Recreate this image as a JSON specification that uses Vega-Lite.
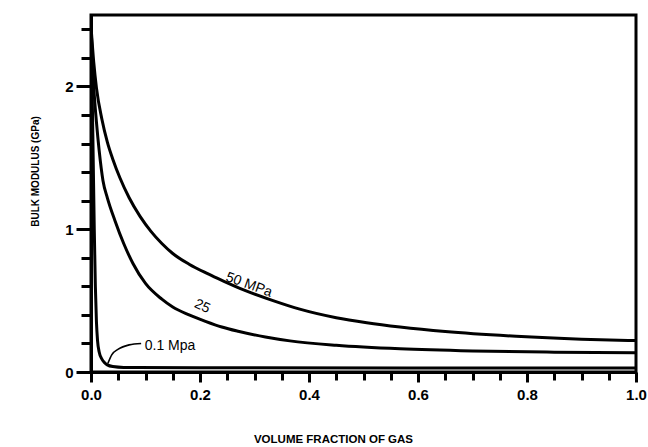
{
  "$schema": "https://vega.github.io/schema/vega-lite/v6.json",
  "width": 545,
  "height": 357,
  "autosize": "none",
  "padding": {"left": 91, "top": 15, "right": 12, "bottom": 75},
  "background": "white",
  "config": {
    "view": {"stroke": "black", "strokeWidth": 3},
    "font": "Liberation Sans"
  },
  "datasets": {
    "curves": [
      {"series": "50 MPa", "x": 0, "y": 2.42},
      {"series": "50 MPa", "x": 0.005, "y": 2.17},
      {"series": "50 MPa", "x": 0.01, "y": 1.99},
      {"series": "50 MPa", "x": 0.02, "y": 1.77},
      {"series": "50 MPa", "x": 0.03, "y": 1.61},
      {"series": "50 MPa", "x": 0.04, "y": 1.49},
      {"series": "50 MPa", "x": 0.053, "y": 1.36},
      {"series": "50 MPa", "x": 0.07, "y": 1.22},
      {"series": "50 MPa", "x": 0.09, "y": 1.09},
      {"series": "50 MPa", "x": 0.11, "y": 0.985},
      {"series": "50 MPa", "x": 0.13, "y": 0.9},
      {"series": "50 MPa", "x": 0.15, "y": 0.83},
      {"series": "50 MPa", "x": 0.18, "y": 0.755},
      {"series": "50 MPa", "x": 0.213, "y": 0.69},
      {"series": "50 MPa", "x": 0.244, "y": 0.635},
      {"series": "50 MPa", "x": 0.28, "y": 0.575},
      {"series": "50 MPa", "x": 0.334, "y": 0.5},
      {"series": "50 MPa", "x": 0.383, "y": 0.44},
      {"series": "50 MPa", "x": 0.45, "y": 0.38},
      {"series": "50 MPa", "x": 0.506, "y": 0.345},
      {"series": "50 MPa", "x": 0.567, "y": 0.315},
      {"series": "50 MPa", "x": 0.65, "y": 0.283},
      {"series": "50 MPa", "x": 0.78, "y": 0.25},
      {"series": "50 MPa", "x": 0.9, "y": 0.23},
      {"series": "50 MPa", "x": 1.0, "y": 0.22},
      {"series": "25 MPa", "x": 0, "y": 2.42},
      {"series": "25 MPa", "x": 0.005, "y": 2.0},
      {"series": "25 MPa", "x": 0.01, "y": 1.75},
      {"series": "25 MPa", "x": 0.015, "y": 1.55},
      {"series": "25 MPa", "x": 0.022, "y": 1.34},
      {"series": "25 MPa", "x": 0.03, "y": 1.22},
      {"series": "25 MPa", "x": 0.044, "y": 1.06},
      {"series": "25 MPa", "x": 0.06, "y": 0.9},
      {"series": "25 MPa", "x": 0.077, "y": 0.76},
      {"series": "25 MPa", "x": 0.1, "y": 0.62},
      {"series": "25 MPa", "x": 0.13, "y": 0.51},
      {"series": "25 MPa", "x": 0.15, "y": 0.455},
      {"series": "25 MPa", "x": 0.18, "y": 0.4},
      {"series": "25 MPa", "x": 0.21, "y": 0.355},
      {"series": "25 MPa", "x": 0.24, "y": 0.315},
      {"series": "25 MPa", "x": 0.27, "y": 0.285},
      {"series": "25 MPa", "x": 0.32, "y": 0.245},
      {"series": "25 MPa", "x": 0.365, "y": 0.218},
      {"series": "25 MPa", "x": 0.45, "y": 0.187},
      {"series": "25 MPa", "x": 0.567, "y": 0.162},
      {"series": "25 MPa", "x": 0.7, "y": 0.147},
      {"series": "25 MPa", "x": 0.85, "y": 0.139},
      {"series": "25 MPa", "x": 1.0, "y": 0.135},
      {"series": "0.1 MPa", "x": 0, "y": 2.42},
      {"series": "0.1 MPa", "x": 0.002, "y": 2.0},
      {"series": "0.1 MPa", "x": 0.004, "y": 1.5},
      {"series": "0.1 MPa", "x": 0.006, "y": 1.0},
      {"series": "0.1 MPa", "x": 0.008, "y": 0.6},
      {"series": "0.1 MPa", "x": 0.01, "y": 0.35},
      {"series": "0.1 MPa", "x": 0.012, "y": 0.22},
      {"series": "0.1 MPa", "x": 0.015, "y": 0.14},
      {"series": "0.1 MPa", "x": 0.02, "y": 0.09},
      {"series": "0.1 MPa", "x": 0.025, "y": 0.065},
      {"series": "0.1 MPa", "x": 0.03, "y": 0.05},
      {"series": "0.1 MPa", "x": 0.04, "y": 0.038},
      {"series": "0.1 MPa", "x": 0.06, "y": 0.032},
      {"series": "0.1 MPa", "x": 0.2, "y": 0.03},
      {"series": "0.1 MPa", "x": 1.0, "y": 0.028}
    ],
    "leader": [
      {"x": 0.031, "y": 0.06},
      {"x": 0.038, "y": 0.12},
      {"x": 0.05, "y": 0.16},
      {"x": 0.07, "y": 0.19},
      {"x": 0.092, "y": 0.2}
    ],
    "labels": [
      {"label": "50 MPa", "x": 0.29, "y": 0.61},
      {"label": "25", "x": 0.204, "y": 0.46},
      {"label": "0.1 Mpa", "x": 0.145, "y": 0.18}
    ]
  },
  "layer": [
    {
      "data": {"name": "curves"},
      "mark": {"type": "line", "color": "black", "strokeWidth": 3, "interpolate": "monotone", "clip": true},
      "encoding": {
        "x": {
          "field": "x", "type": "quantitative",
          "scale": {"domain": [0, 1], "nice": false},
          "axis": {
            "values": [0, 0.05, 0.1, 0.15, 0.2, 0.25, 0.3, 0.35, 0.4, 0.45, 0.5, 0.55, 0.6, 0.65, 0.7, 0.75, 0.8, 0.85, 0.9, 0.95, 1.0],
            "tickCount": 100,
            "labelExpr": "abs(datum.value*5 - round(datum.value*5)) < 0.001 ? format(datum.value, '.1f') : ''",
            "grid": false,
            "domainColor": "black", "domainWidth": 3,
            "tickColor": "black", "tickWidth": 3,
            "tickSize": {"condition": {"test": "abs(datum.value*5 - round(datum.value*5)) < 0.001", "value": 10}, "value": 8},
            "labelFont": "Liberation Sans", "labelFontSize": 15, "labelFontWeight": "bold", "labelColor": "black",
            "labelPadding": 5, "labelFlush": false, "labelOverlap": false,
            "title": "VOLUME FRACTION OF GAS",
            "titleFont": "Liberation Sans", "titleFontSize": 11.5, "titleFontWeight": "bold", "titleColor": "black",
            "titleAnchor": "start", "titleAlign": "center", "titleX": 242, "titleY": 70, "titleBaseline": "alphabetic"
          }
        },
        "y": {
          "field": "y", "type": "quantitative",
          "scale": {"domain": [0, 2.5], "nice": false},
          "axis": {
            "values": [0, 0.2, 0.4, 0.6, 0.8, 1.0, 1.2, 1.4, 1.6, 1.8, 2.0, 2.2, 2.4],
            "tickCount": 100,
            "labelExpr": "abs(datum.value - round(datum.value)) < 0.001 ? format(datum.value, 'd') : ''",
            "grid": false,
            "domainColor": "black", "domainWidth": 3,
            "tickColor": "black", "tickWidth": 3,
            "tickSize": {"condition": {"test": "abs(datum.value - round(datum.value)) < 0.001", "value": 15}, "value": 10},
            "labelFont": "Liberation Sans", "labelFontSize": 15, "labelFontWeight": "bold", "labelColor": "black",
            "labelPadding": 3, "labelFlush": false, "labelOverlap": false,
            "title": "BULK MODULUS (GPa)",
            "titleFont": "Liberation Sans", "titleFontSize": 10, "titleFontWeight": "bold", "titleColor": "black",
            "titleAngle": -90, "titleAnchor": "start", "titleAlign": "center", "titleBaseline": "middle",
            "titleX": -56, "titleY": 156
          }
        },
        "detail": {"field": "series", "type": "nominal"}
      }
    },
    {
      "data": {"name": "leader"},
      "mark": {"type": "line", "color": "black", "strokeWidth": 1.6, "interpolate": "monotone"},
      "encoding": {
        "x": {"field": "x", "type": "quantitative"},
        "y": {"field": "y", "type": "quantitative"}
      }
    },
    {
      "data": {"name": "labels"},
      "transform": [{"filter": "datum.label == '50 MPa'"}],
      "mark": {"type": "text", "angle": 20, "fontSize": 14, "font": "Liberation Sans", "color": "black", "align": "center", "baseline": "middle"},
      "encoding": {
        "x": {"field": "x", "type": "quantitative"},
        "y": {"field": "y", "type": "quantitative"},
        "text": {"field": "label"}
      }
    },
    {
      "data": {"name": "labels"},
      "transform": [{"filter": "datum.label == '25'"}],
      "mark": {"type": "text", "angle": 25, "fontSize": 14, "font": "Liberation Sans", "color": "black", "align": "center", "baseline": "middle"},
      "encoding": {
        "x": {"field": "x", "type": "quantitative"},
        "y": {"field": "y", "type": "quantitative"},
        "text": {"field": "label"}
      }
    },
    {
      "data": {"name": "labels"},
      "transform": [{"filter": "datum.label == '0.1 Mpa'"}],
      "mark": {"type": "text", "fontSize": 14, "font": "Liberation Sans", "color": "black", "align": "center", "baseline": "middle"},
      "encoding": {
        "x": {"field": "x", "type": "quantitative"},
        "y": {"field": "y", "type": "quantitative"},
        "text": {"field": "label"}
      }
    }
  ]
}
